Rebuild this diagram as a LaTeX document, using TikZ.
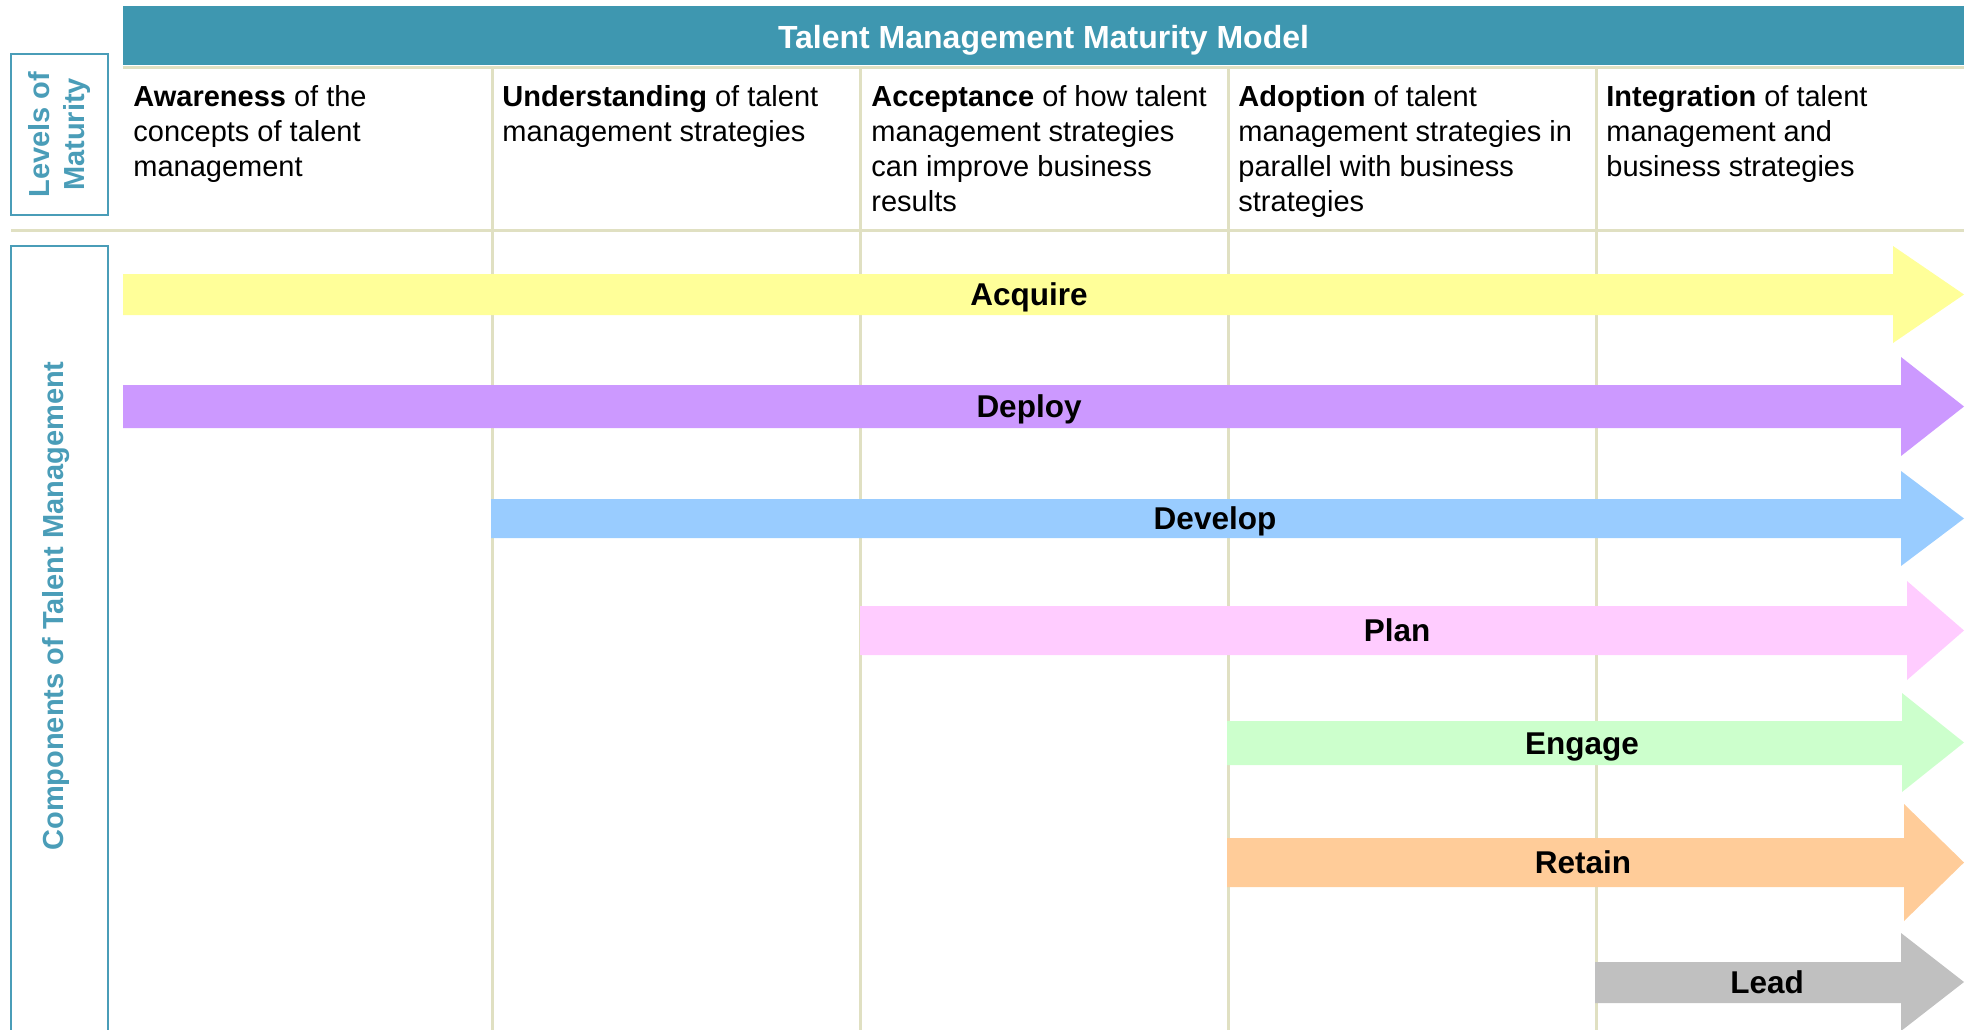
\documentclass[tikz,border=0pt]{standalone}
\usepackage{fontspec}
\setmainfont{Liberation Sans}
\usetikzlibrary{positioning}
\usepackage{xcolor}

\definecolor{headteal}{HTML}{3E97B0}
\definecolor{sideteal}{HTML}{4A9DB8}
\definecolor{gridbeige}{HTML}{E0E0C2}
\definecolor{acquirecol}{HTML}{FFFF99}
\definecolor{deploycol}{HTML}{CC99FF}
\definecolor{developcol}{HTML}{99CCFF}
\definecolor{plancol}{HTML}{FFCCFF}
\definecolor{engagecol}{HTML}{CCFFCC}
\definecolor{retaincol}{HTML}{FFCC99}
\definecolor{leadcol}{HTML}{C0C0C0}

\tikzset{
  gridline/.style={draw=gridbeige, line width=1.5pt},
  sidebox/.style={draw=sideteal, line width=1.2pt},
  sidelabel/.style={text=sideteal, rotate=90, align=center, inner sep=0pt,
    font=\fontsize{14.5}{17.5}\selectfont\bfseries},
  header/.style={fill=headteal, text=white, inner sep=0pt,
    minimum width=920.5pt, minimum height=29.5pt,
    text height=12.4pt, text depth=0pt,
    font=\fontsize{16}{19}\selectfont\bfseries},
  leveltext/.style={anchor=north west, align=left, inner sep=0pt,
    font=\fontsize{14.5}{17.5}\selectfont},
  barlabel/.style={inner sep=0pt, text height=11.3pt, text depth=0pt,
    font=\fontsize{15.75}{18}\selectfont\bfseries}
}

\begin{document}
\begin{tikzpicture}[x=0.5pt, y=-0.5pt]
      \useasboundingbox (0,0) rectangle (1968,1029);
      \clip (0,0) rectangle (1968,1029);

      % title bar
      \node[header] (title) at (1043.5,35.8) {Talent Management Maturity Model};
      \draw[gridline] (123,67) -- (1964,67);

      % column dividers and row line
      \draw[gridline] (492,67) -- (492,1040);
      \draw[gridline] (860,67) -- (860,1040);
      \draw[gridline] (1228,67) -- (1228,1040);
      \draw[gridline] (1596,67) -- (1596,1040);
      \draw[gridline] (11,230) -- (1964,230);

      % side boxes
      \draw[sidebox] (11,54) rectangle (108,215);
      \node[sidelabel] (levels) at (59.5,134.5) {Levels of\\Maturity};
      \draw[sidebox] (11,246) rectangle (108,1050);
      \node[sidelabel] (components) at (56,606) {Components of Talent Management};

      % levels of maturity
      \node[leveltext] (awareness) at (133,85) {\textbf{Awareness} of the\\concepts of talent\\management};
      \node[leveltext] (understanding) at (502,85) {\textbf{Understanding} of talent\\management strategies};
      \node[leveltext] (acceptance) at (871,85) {\textbf{Acceptance} of how talent\\management strategies\\can improve business\\results};
      \node[leveltext] (adoption) at (1238,85) {\textbf{Adoption} of talent\\management strategies in\\parallel with business\\strategies};
      \node[leveltext] (integration) at (1606,85) {\textbf{Integration} of talent\\management and\\business strategies};

      % component arrows
      \fill[acquirecol] (123,274) -- (1893,274) -- (1893,246) -- (1964,294.5) -- (1893,343) -- (1893,315) -- (123,315) -- cycle;
      \node[barlabel] (acquire) at (1029,294.5) {Acquire};

      \fill[deploycol] (123,385) -- (1901,385) -- (1901,357) -- (1964,406.5) -- (1901,456) -- (1901,428) -- (123,428) -- cycle;
      \node[barlabel] (deploy) at (1029,406.5) {Deploy};

      \fill[developcol] (491,499) -- (1901,499) -- (1901,471) -- (1964,518.5) -- (1901,566) -- (1901,538) -- (491,538) -- cycle;
      \node[barlabel] (develop) at (1215,518.5) {Develop};

      \fill[plancol] (860,606) -- (1907,606) -- (1907,581) -- (1964,630.5) -- (1907,680) -- (1907,655) -- (860,655) -- cycle;
      \node[barlabel] (plan) at (1397,630.5) {Plan};

      \fill[engagecol] (1227,721) -- (1902,721) -- (1902,693) -- (1964,742.5) -- (1902,792) -- (1902,765) -- (1227,765) -- cycle;
      \node[barlabel] (engage) at (1582,743) {Engage};

      \fill[retaincol] (1227,838) -- (1904,838) -- (1904,804) -- (1964,862.5) -- (1904,921) -- (1904,887) -- (1227,887) -- cycle;
      \node[barlabel] (retain) at (1583,862.5) {Retain};

      \fill[leadcol] (1595,962) -- (1901,962) -- (1901,933) -- (1964,982) -- (1901,1031) -- (1901,1003) -- (1595,1003) -- cycle;
      \node[barlabel] (lead) at (1767,982.5) {Lead};
\end{tikzpicture}
\end{document}
